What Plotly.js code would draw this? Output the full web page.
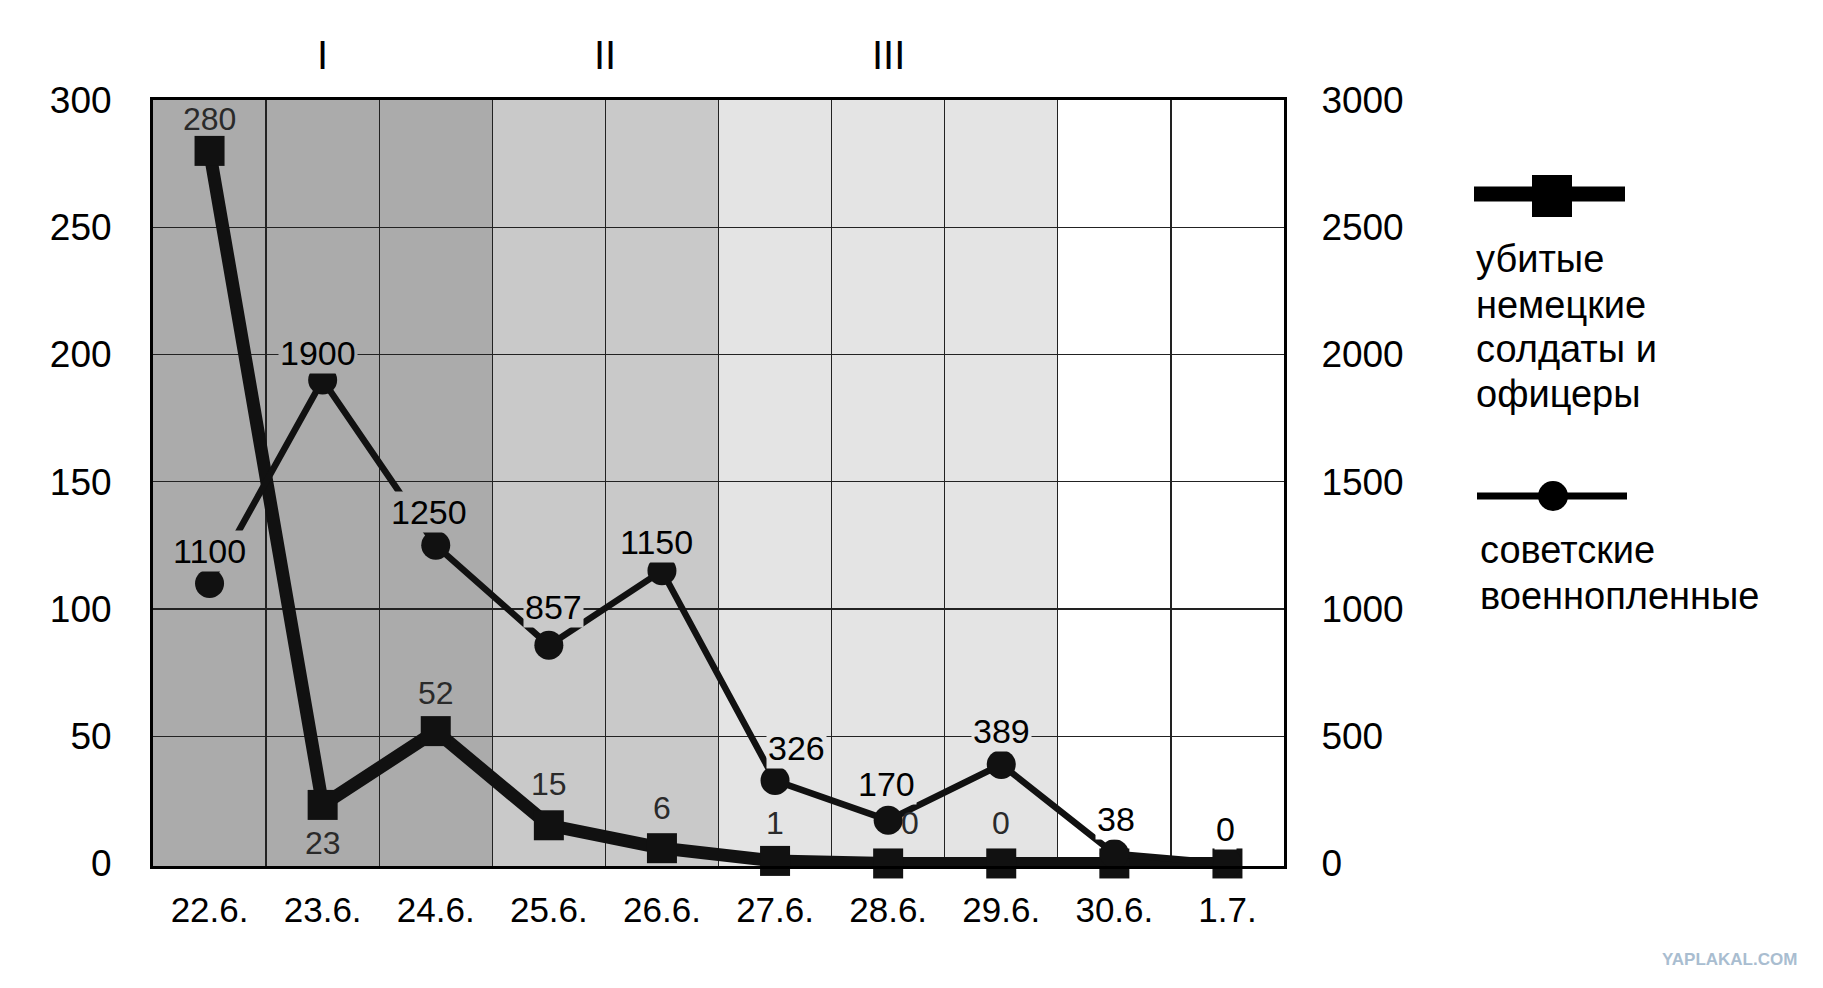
<!DOCTYPE html>
<html>
<head>
<meta charset="utf-8">
<script src="https://cdn.plot.ly/plotly-3.0.1.min.js"></script>
<style>html,body{margin:0;padding:0;background:#fff;}#chart{width:1823px;height:988px;}</style>
</head>
<body>
<div id="chart"></div>
<script>
// ---- data ----
const dates = ['22.6.','23.6.','24.6.','25.6.','26.6.','27.6.','28.6.','29.6.','30.6.','1.7.'];
const germanKilled = [280, 23, 52, 15, 6, 1, 0, 0, 0, 0];
const sovietPOW = [1100, 1900, 1250, 857, 1150, 326, 170, 389, 38, 0];
const germanLabelShown = [true, true, true, true, true, true, true, true, false, false];
const leftTicks = [0, 50, 100, 150, 200, 250, 300];
const rightTicks = [0, 500, 1000, 1500, 2000, 2500, 3000];
const phaseNames = ['I', 'II', 'III'];
const phaseFirst = [0, 3, 5];
const phaseLast = [2, 4, 7];
const legendGerman = ['убитые', 'немецкие', 'солдаты и', 'офицеры'];
const legendSoviet = ['советские', 'военнопленные'];
const watermark = 'YAPLAKAL.COM';

// ---- style ----
const FONT = 'Liberation Sans, Arial, Helvetica, sans-serif';
const phaseColors = ['#ababab', '#c9c9c9', '#e4e4e4'];
const sovietShift = [[0,33],[-5,27],[-7,33],[5,38],[-5,29],[21,32],[-2,36],[0,33],[2,35],[-2,34]];
const germanShift = [[0,32],[0,-38],[0,38],[0,41],[0,40],[0,38],[22,40],[0,40],[0,40],[0,40]];

function colAt(i){
  for (let p = 0; p < phaseFirst.length; p++) if (i >= phaseFirst[p] && i <= phaseLast[p]) return phaseColors[p];
  return '#ffffff';
}

const traces = [
  {
    x: dates, y: germanKilled, yaxis: 'y', type: 'scatter', mode: 'lines+markers',
    line: {color: '#111111', width: 13},
    marker: {symbol: 'square', size: 30, color: '#111111'},
    cliponaxis: false, showlegend: false, hoverinfo: 'skip'
  },
  {
    x: dates, y: sovietPOW, yaxis: 'y2', type: 'scatter', mode: 'lines+markers',
    line: {color: '#111111', width: 6.5},
    marker: {symbol: 'circle', size: 29, color: '#111111'},
    cliponaxis: false, showlegend: false, hoverinfo: 'skip'
  }
];

// plot area: x 153..1284, y 100..866
const PX0 = 153, PW = 1131, PY1 = 866, PH = 766;
const px = v => (v - PX0) / PW;
const py = v => (PY1 - v) / PH;

const shapes = [];
phaseFirst.forEach((f, p) => {
  shapes.push({type: 'rect', xref: 'x', yref: 'paper', x0: f - 0.5, x1: phaseLast[p] + 0.5, y0: 0, y1: 1,
    fillcolor: phaseColors[p], line: {width: 0}, layer: 'below'});
});
// legend samples
shapes.push({type: 'line', xref: 'paper', yref: 'paper', x0: px(1474), x1: px(1625), y0: py(194), y1: py(194), line: {color: '#000', width: 15}});
shapes.push({type: 'rect', xref: 'paper', yref: 'paper', xsizemode: 'pixel', ysizemode: 'pixel',
  xanchor: px(1552), yanchor: py(196), x0: -20, x1: 20, y0: -21, y1: 21, fillcolor: '#000', line: {width: 0}});
shapes.push({type: 'line', xref: 'paper', yref: 'paper', x0: px(1477), x1: px(1627), y0: py(496), y1: py(496), line: {color: '#000', width: 7}});
shapes.push({type: 'circle', xref: 'paper', yref: 'paper', xsizemode: 'pixel', ysizemode: 'pixel',
  xanchor: px(1553), yanchor: py(496), x0: -15, x1: 15, y0: -15, y1: 15, fillcolor: '#000', line: {width: 0}});

const annotations = [];
// phase numerals
phaseNames.forEach((n, p) => {
  annotations.push({xref: 'x', yref: 'paper', x: (phaseFirst[p] + phaseLast[p]) / 2, y: py(55),
    text: n, showarrow: false, font: {family: FONT, size: 40, color: '#000'}, yanchor: 'middle'});
});
// soviet labels
sovietPOW.forEach((v, i) => {
  annotations.push({xref: 'x', yref: 'y2', x: dates[i], y: v, text: String(v), showarrow: false,
    xshift: sovietShift[i][0], yshift: sovietShift[i][1], yanchor: 'middle',
    bgcolor: colAt(i), borderpad: 1, font: {family: FONT, size: 34, color: '#000'}});
});
// german labels
germanKilled.forEach((v, i) => {
  if (!germanLabelShown[i]) return;
  annotations.push({xref: 'x', yref: 'y', x: dates[i], y: v, text: String(v), showarrow: false,
    xshift: germanShift[i][0], yshift: germanShift[i][1], yanchor: 'middle',
    font: {family: FONT, size: 32, color: '#2a2a2a'}});
});
// legend text
const gY = [258.5, 305, 349, 394];
legendGerman.forEach((t, k) => {
  annotations.push({xref: 'paper', yref: 'paper', x: px(1473.5), y: py(gY[k]), xanchor: 'left', yanchor: 'middle',
    text: t, showarrow: false, font: {family: FONT, size: 38, color: '#000'}});
});
const sY = [550, 596];
legendSoviet.forEach((t, k) => {
  annotations.push({xref: 'paper', yref: 'paper', x: px(1477.5), y: py(sY[k]), xanchor: 'left', yanchor: 'middle',
    text: t, showarrow: false, font: {family: FONT, size: 38, color: '#000'}});
});
annotations.push({xref: 'paper', yref: 'paper', x: px(1729), y: py(959), xanchor: 'center', yanchor: 'middle',
  text: '<b>' + watermark + '</b>', showarrow: false, font: {family: FONT, size: 17, color: '#a9bdd0'}});

const layout = {
  width: 1823, height: 988,
  margin: {l: 153, r: 539, t: 100, b: 122, pad: 0},
  paper_bgcolor: '#ffffff', plot_bgcolor: '#ffffff',
  showlegend: false,
  xaxis: {
    type: 'category', range: [-0.5, 9.5], tickson: 'boundaries', ticks: '',
    showgrid: true, gridcolor: '#222', gridwidth: 1.3,
    showline: true, mirror: true, linecolor: '#000', linewidth: 3,
    tickfont: {family: FONT, size: 35, color: '#000'}, ticklabelstandoff: 11,
    fixedrange: true
  },
  yaxis: {
    range: [-1, 300], tickmode: 'array', tickvals: leftTicks, ticktext: leftTicks.map(String),
    ticks: '', showgrid: true, gridcolor: '#222', gridwidth: 1.3,
    zeroline: true, zerolinecolor: 'rgba(0,0,0,0)', zerolinewidth: 1,
    showline: true, mirror: true, linecolor: '#000', linewidth: 3,
    tickfont: {family: FONT, size: 37, color: '#000'}, ticklabelstandoff: 31,
    fixedrange: true
  },
  yaxis2: {
    overlaying: 'y', side: 'right', range: [-10, 3000], tickmode: 'array', tickvals: rightTicks,
    ticktext: rightTicks.map(String), ticks: '', showgrid: false, zeroline: false,
    showline: true, linecolor: '#000', linewidth: 3,
    tickfont: {family: FONT, size: 37, color: '#000'}, ticklabelstandoff: 27,
    fixedrange: true
  },
  shapes: shapes,
  annotations: annotations
};

Plotly.newPlot('chart', traces, layout, {staticPlot: true, displayModeBar: false});
</script>
</body>
</html>
